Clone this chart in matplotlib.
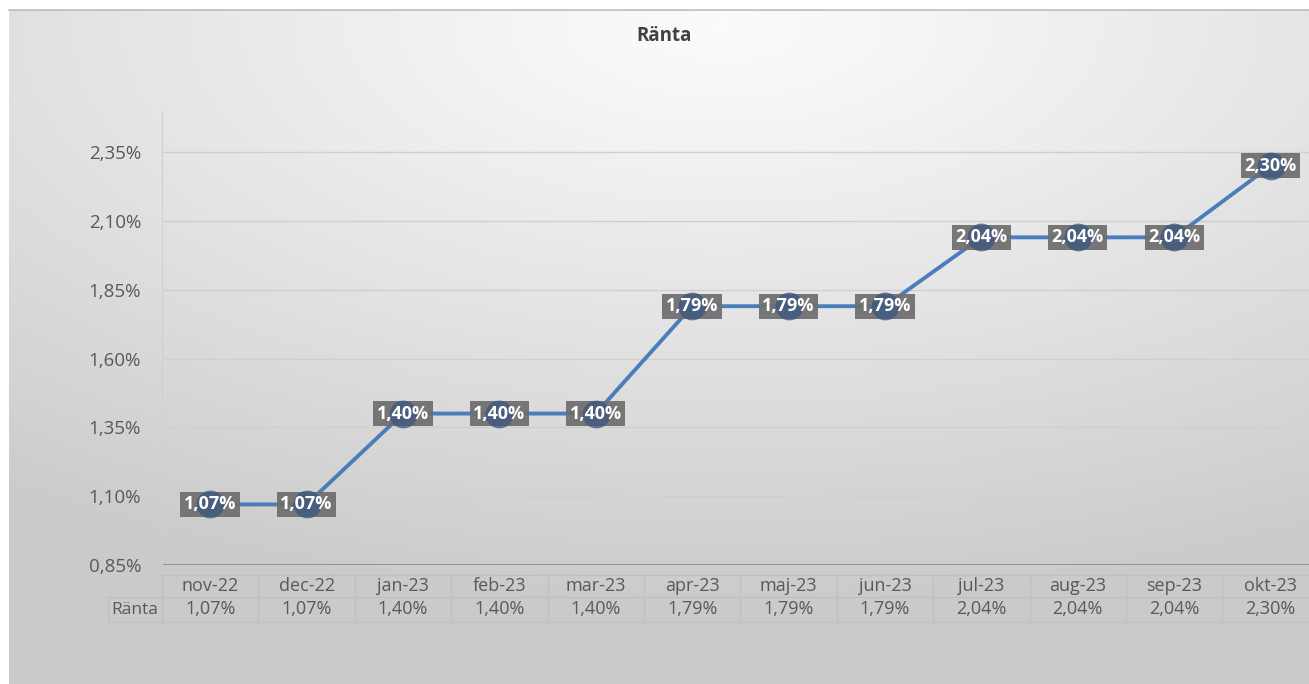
import numpy as np
import matplotlib
matplotlib.use("Agg")
import matplotlib.pyplot as plt
from matplotlib.transforms import blended_transform_factory

plt.rcParams['font.family'] = ['Open Sans', 'DejaVu Sans']

months = ["nov-22", "dec-22", "jan-23", "feb-23", "mar-23", "apr-23",
          "maj-23", "jun-23", "jul-23", "aug-23", "sep-23", "okt-23"]
ranta = [1.07, 1.07, 1.40, 1.40, 1.40, 1.79, 1.79, 1.79, 2.04, 2.04, 2.04, 2.30]
yticks = [0.85, 1.10, 1.35, 1.60, 1.85, 2.10, 2.35]
series_name = "Ränta"
title = "Ränta"

W, H = 1309, 684
fig = plt.figure(figsize=(W / 100, H / 100), dpi=100)
fig.patch.set_facecolor("white")

def fmt(v):
    return f"{v:.2f}%".replace(".", ",")

# background gradient chart area
bg = fig.add_axes([9 / W, 0, 1 - 9 / W, 1 - 10 / H], zorder=-10)
gx = np.linspace(0, 1, 400)
gy = np.linspace(0, 1, 220)
X, Y = np.meshgrid(gx, gy)
cx, cy = 0.55, 0.02
d = np.sqrt(((X - cx) * 1.0) ** 2 + ((Y - cy) * 1.1) ** 2)
d = np.clip(d / 0.95, 0, 1)
val = 0.985 - 0.19 * d ** 1.1
img = np.dstack([val, val, val])
bg.imshow(img, aspect="auto", extent=[0, 1, 0, 1], origin="upper")
bg.set_xlim(0, 1); bg.set_ylim(0, 1)
bg.axis("off")
bg.plot([0, 1], [1, 1], color="#bdbdbd", lw=1.2, transform=bg.transAxes, clip_on=False)

# main axes
left = 162 / W
bottom = (H - 565) / H
width = 96.4 * 12 / W
height = (565 - 111) / H
ax = fig.add_axes([left, bottom, width, height])
ax.patch.set_alpha(0)
x = np.arange(len(months))
ax.set_xlim(-0.5, len(months) - 0.5)
ax.set_ylim(0.85, 0.85 + (565 - 111) / ((565 - 152) / 6) * 0.25)
ax.set_yticks(yticks)
ax.set_yticklabels([fmt(v) for v in yticks], color="#595959", fontsize=13.5)
ax.tick_params(axis="y", length=0, pad=15)
ax.set_xticks([])
for s in ["top", "right", "bottom"]:
    ax.spines[s].set_visible(False)
ax.spines["left"].set_color("#d0d0d0")
ax.spines["left"].set_linewidth(0.8)
for v in yticks[1:]:
    ax.axhline(v, color="#cfcfcf", lw=1.0, zorder=1)
ax.axhline(yticks[0], color="#8c8c8c", lw=1.2, zorder=1)

ax.plot(x, ranta, color="#4a7ebb", lw=2.8, zorder=3, solid_capstyle="round")
for xi, v in zip(x, ranta):
    ax.text(xi, v, fmt(v), ha="center", va="center", color="none", fontsize=13,
            fontweight="bold", zorder=3.5,
            bbox=dict(boxstyle="square,pad=0.2", fc="#6e6e6e", ec="none", alpha=0.93))
ax.plot(x, ranta, "o", ms=20, color="#3b5580", zorder=4, mec="none", alpha=0.75)
for xi, v in zip(x, ranta):
    ax.text(xi, v, fmt(v), ha="center", va="center", color="white", fontsize=13,
            fontweight="bold", zorder=5)

fig.text(664 / W, 1 - 36 / H, title, ha="center", va="center", fontsize=13.5,
         fontweight="bold", color="#404040")

# data table
tr = blended_transform_factory(ax.transData, fig.transFigure)
y_top = 1 - 575 / H
y_mid = 1 - 597 / H
y_bot = 1 - 622 / H
lc = "#c0c0c0"
n = len(months)
ax.plot([-0.5, n - 0.5], [y_top, y_top], color=lc, lw=1, transform=tr, clip_on=False)
ax.plot([-0.5, n - 0.5], [y_mid, y_mid], color=lc, lw=1, transform=tr, clip_on=False)
ax.plot([-0.5, n - 0.5], [y_bot, y_bot], color=lc, lw=1, transform=tr, clip_on=False)
for i in range(n + 1):
    ax.plot([i - 0.5, i - 0.5], [y_top, y_bot], color=lc, lw=1, transform=tr, clip_on=False)
# row label box
lab_left = 108 / W
ftr = fig.transFigure
fig.lines.append(plt.Line2D([lab_left, left], [y_mid, y_mid], color=lc, lw=1, transform=ftr))
fig.lines.append(plt.Line2D([lab_left, left], [y_bot, y_bot], color=lc, lw=1, transform=ftr))
fig.lines.append(plt.Line2D([lab_left, lab_left], [y_mid, y_bot], color=lc, lw=1, transform=ftr))
fig.text((lab_left + left) / 2, (y_mid + y_bot) / 2, series_name, ha="center", va="center",
         fontsize=12.5, color="#595959")
for xi, m, v in zip(x, months, ranta):
    ax.text(xi, (y_top + y_mid) / 2, m, ha="center", va="center", fontsize=13,
            color="#595959", transform=tr, clip_on=False)
    ax.text(xi, (y_mid + y_bot) / 2, fmt(v), ha="center", va="center", fontsize=13,
            color="#595959", transform=tr, clip_on=False)

fig.savefig("out.png", dpi=100)
